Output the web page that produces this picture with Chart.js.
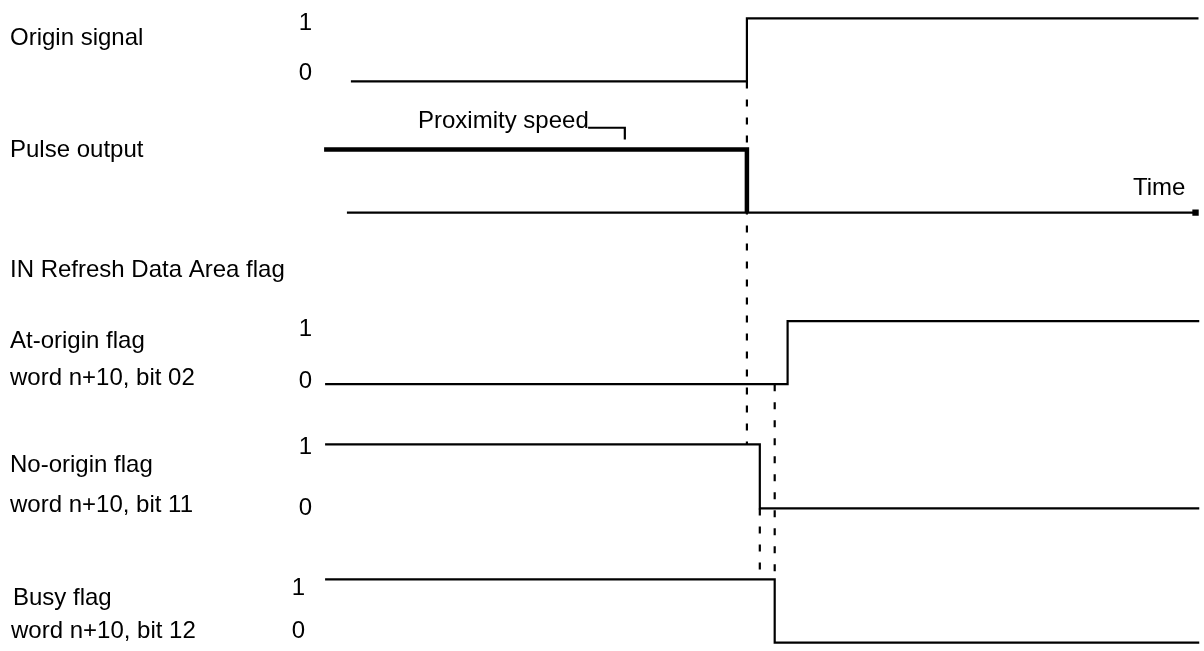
<!DOCTYPE html>
<html>
<head>
<meta charset="utf-8">
<title>Origin search timing</title>
<script src="https://cdn.jsdelivr.net/npm/chart.js@4/dist/chart.umd.min.js"></script>
<style>
    html, body { margin: 0; padding: 0; background: #fff; }
    #timingChart { display: block; }
</style>
</head>
<body>
<canvas id="timingChart" width="1204" height="651"></canvas>
<script>
// Signal data: switching times and logic levels (0 / 1)
const originTimes = [349, 748, 748, 1203];
const originLevels = [0, 0, 1, 1];
const pulseTimes = [322, 748, 748];
const pulseLevels = [1, 1, 0];           // 1 = proximity speed, 0 = stopped
const timeAxisTimes = [345, 1200];
const atOriginTimes = [323, 789, 789, 1204];
const atOriginLevels = [0, 0, 1, 1];
const noOriginTimes = [323, 761, 761, 1204];
const noOriginLevels = [1, 1, 0, 0];
const busyTimes = [323, 776, 776, 1204];
const busyLevels = [1, 1, 0, 0];

// Dashed guide lines: time, from lane/level, to lane/level
const guideTimes = [748, 761, 776];
const guideFrom = [['origin', 0], ['noOrigin', 0], ['atOrigin', 0]];
const guideTo = [['noOrigin', 1], ['busy', 1], ['busy', 1]];

const rowLabels = ['Origin signal', 'Pulse output', 'IN Refresh Data Area flag',
    'At-origin flag', 'word n+10, bit 02', 'No-origin flag', 'word n+10, bit 11',
    'Busy flag', 'word n+10, bit 12'];
const levelLabels = ['1', '0'];

// Layout: where each lane's 0 level sits and how tall a 1 is
const lanes = {
    origin:   { base: 78,  amp: 64 },
    pulse:    { base: 211, amp: 64 },
    atOrigin: { base: 385, amp: 64 },
    noOrigin: { base: 511, amp: 65 },
    busy:     { base: 647, amp: 64 }
};
const rowLabelPos = [[10, 45], [10, 157], [10, 277], [10, 348], [10, 385], [10, 472], [10, 512], [13, 605], [11, 638]];
const levelLabelPos = { origin: [312, 30, 80], atOrigin: [312, 336, 388], noOrigin: [312, 454, 515], busy: [305, 595, 638] };
const FONT = '24px "Liberation Sans", Arial, sans-serif';

function lanePoints(lane, times, levels) {
    const l = lanes[lane];
    return times.map((t, i) => ({ x: t, y: l.base - levels[i] * l.amp }));
}

function levelY(ref) {
    const l = lanes[ref[0]];
    return l.base - ref[1] * l.amp;
}

const solid = (data, width) => ({
    data: data,
    showLine: true,
    borderColor: '#000',
    borderWidth: width,
    pointRadius: 0,
    borderCapStyle: 'butt',
    borderJoinStyle: 'miter'
});

const datasets = [
    solid(lanePoints('origin', originTimes, originLevels), 2.2),
    solid(lanePoints('pulse', pulseTimes, pulseLevels), 4.5),
    Object.assign(solid(lanePoints('pulse', timeAxisTimes, [0, 0]), 2.2), {
        pointRadius: [0, 4.5], pointStyle: 'rect', pointBackgroundColor: '#000', pointBorderWidth: 0
    }),
    solid(lanePoints('atOrigin', atOriginTimes, atOriginLevels), 2.2),
    solid(lanePoints('noOrigin', noOriginTimes, noOriginLevels), 2.2),
    solid(lanePoints('busy', busyTimes, busyLevels), 2.2)
];

guideTimes.forEach((t, i) => {
    const ds = solid([{ x: t, y: levelY(guideFrom[i]) }, { x: t, y: levelY(guideTo[i]) }], 2.2);
    ds.borderDash = [7, 11];
    datasets.push(ds);
});

// Text labels and the "Proximity speed" callout
const labelPlugin = {
    id: 'timingLabels',
    afterDatasetsDraw(chart) {
        const ctx = chart.ctx;
        const xs = chart.scales.x, ys = chart.scales.y;
        ctx.save();
        ctx.fillStyle = '#000';
        ctx.font = FONT;
        ctx.textBaseline = 'alphabetic';
        ctx.textAlign = 'left';
        rowLabels.forEach((txt, i) => {
            ctx.fillText(txt, rowLabelPos[i][0], rowLabelPos[i][1]);
        });
        ctx.fillText('Time', 1133, 195);
        ctx.fillText('Proximity speed', 418, 128);

        ctx.textAlign = 'right';
        Object.keys(levelLabelPos).forEach(k => {
            const p = levelLabelPos[k];
            ctx.fillText(levelLabels[0], p[0], p[1]);
            ctx.fillText(levelLabels[1], p[0], p[2]);
        });

        // callout bracket pointing at the proximity speed level
        ctx.strokeStyle = '#000';
        ctx.lineWidth = 2.2;
        ctx.beginPath();
        ctx.moveTo(xs.getPixelForValue(588), ys.getPixelForValue(125));
        ctx.lineTo(xs.getPixelForValue(625), ys.getPixelForValue(125));
        ctx.lineTo(xs.getPixelForValue(625), ys.getPixelForValue(137));
        ctx.stroke();
        ctx.restore();
    }
};

new Chart(document.getElementById('timingChart'), {
    type: 'scatter',
    data: { datasets: datasets },
    options: {
        responsive: false,
        animation: false,
        layout: { padding: 0 },
        plugins: {
            legend: { display: false },
            tooltip: { enabled: false }
        },
        scales: {
            x: { type: 'linear', min: 0, max: 1204, display: false },
            y: { type: 'linear', min: 0, max: 651, reverse: true, display: false }
        }
    },
    plugins: [labelPlugin]
});
</script>
</body>
</html>
